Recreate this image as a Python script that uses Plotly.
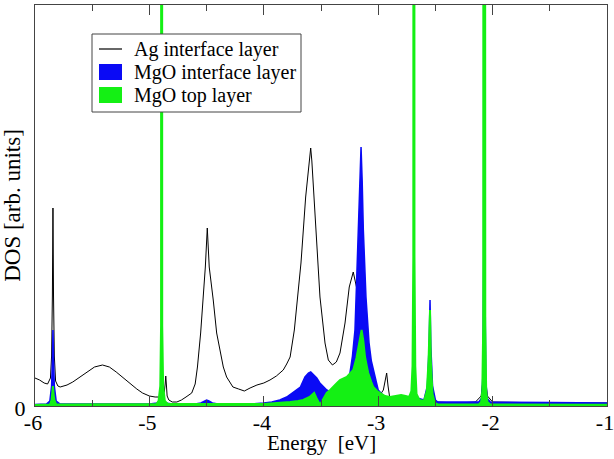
import plotly.graph_objects as go

# ---- data (energy in eV, DOS in arbitrary units) ----
ag_energy = [-6.00, -5.96, -5.92, -5.89, -5.865, -5.855, -5.848, -5.843, -5.838, -5.831, -5.82, -5.80,
             -5.78, -5.72, -5.67, -5.61, -5.55, -5.48, -5.41, -5.35, -5.29, -5.23, -5.17, -5.11,
             -5.06, -5.00, -4.95, -4.92, -4.89, -4.87, -4.862, -4.857, -4.852, -4.845, -4.83, -4.80,
             -4.76, -4.72, -4.68, -4.65, -4.63, -4.60, -4.58, -4.552, -4.53, -4.511, -4.494, -4.477,
             -4.442, -4.412, -4.383, -4.354, -4.325, -4.27, -4.22, -4.17, -4.12, -4.06, -4.00, -3.946,
             -3.89, -3.83, -3.80, -3.77, -3.733, -3.675, -3.634, -3.60, -3.59, -3.58, -3.56, -3.537,
             -3.509, -3.465, -3.436, -3.40, -3.366, -3.334, -3.29, -3.253, -3.218, -3.19, -3.16, -3.115,
             -3.07, -3.03, -2.984, -2.955, -2.937, -2.926, -2.914, -2.90, -2.84, -2.78, -2.72, -2.69,
             -2.65, -2.60, -2.55, -2.50, -2.30, -2.15, -2.10, -2.085, -2.073, -2.06, -2.045, -2.00,
             -1.50, -1.00]
ag_dos = [28, 26, 23, 22, 28, 50, 110, 198, 110, 50, 25, 20,
          19, 21, 24, 29, 34, 39, 41, 39, 34, 28, 23, 17,
          13, 10, 9, 9, 10, 14, 22, 30, 22, 10, 6, 4,
          4, 6, 9, 11, 13, 22, 39, 73, 106, 139, 178, 139,
          106, 73, 56, 39, 29, 19, 17, 15, 18, 21, 23, 26,
          30, 36, 42, 49, 76, 143, 209, 250, 258, 245, 209, 159,
          109, 63, 46, 41, 44, 53, 83, 119, 134, 119, 89, 59,
          36, 19, 11, 16, 25, 33, 20, 9, 8, 8, 8, 9,
          6, 5, 6, 4, 3, 4, 10, 25, 66, 25, 10, 4,
          3, 3]

mgo_if_energy = [-6.00, -5.90, -5.87, -5.855, -5.848, -5.843, -5.838, -5.831, -5.815, -5.78, -5.00, -4.93,
                 -4.905, -4.893, -4.88, -4.86, -4.80, -4.60, -4.55, -4.52, -4.50, -4.48, -4.45, -4.40,
                 -4.10, -4.00, -3.93, -3.86, -3.80, -3.74, -3.68, -3.64, -3.61, -3.59, -3.57, -3.537,
                 -3.51, -3.48, -3.45, -3.42, -3.37, -3.33, -3.305, -3.27, -3.247, -3.225, -3.203, -3.19,
                 -3.174, -3.16, -3.15, -3.14, -3.13, -3.107, -3.08, -3.06, -3.043, -3.02, -3.00, -2.96,
                 -2.926, -2.85, -2.78, -2.72, -2.70, -2.69, -2.68, -2.66, -2.60, -2.57, -2.555, -2.547,
                 -2.54, -2.525, -2.50, -2.48, -2.12, -2.095, -2.085, -2.078, -2.073, -2.068, -2.06, -2.05,
                 -2.02, -1.50, -1.00]
mgo_if_dos = [1.5, 2, 5, 20, 45, 76, 45, 20, 5, 2, 2, 3,
              8, 20, 8, 3, 2, 2, 3, 5, 6, 5, 3, 2,
              2, 3, 4, 6, 9, 14, 19, 29, 33, 34, 32, 28,
              23, 19, 16, 14, 14, 16, 19, 25, 33, 50, 76, 120,
              176, 225, 259, 225, 176, 109, 63, 45, 36, 24, 16, 11,
              8, 8, 9, 9, 15, 30, 15, 8, 6, 20, 60, 106,
              60, 20, 6, 4, 4, 8, 30, 150, 3000, 150, 30, 8,
              4, 3.5, 3]

mgo_top_energy = [-6.00, -5.87, -5.855, -5.848, -5.843, -5.838, -5.831, -5.815, -5.00, -4.94, -4.92, -4.905,
                  -4.898, -4.893, -4.888, -4.88, -4.865, -4.84, -4.00, -3.85, -3.77, -3.70, -3.655, -3.60,
                  -3.575, -3.56, -3.54, -3.52, -3.51, -3.495, -3.47, -3.45, -3.42, -3.39, -3.36, -3.334,
                  -3.30, -3.275, -3.25, -3.218, -3.19, -3.174, -3.16, -3.145, -3.13, -3.115, -3.10, -3.087,
                  -3.06, -3.043, -3.01, -2.984, -2.94, -2.897, -2.85, -2.80, -2.76, -2.73, -2.71, -2.70,
                  -2.693, -2.688, -2.683, -2.676, -2.665, -2.64, -2.60, -2.575, -2.56, -2.551, -2.547, -2.54,
                  -2.525, -2.505, -2.48, -2.12, -2.10, -2.09, -2.082, -2.073, -2.064, -2.056, -2.045, -2.02,
                  -1.00]
mgo_top_dos = [1, 1.5, 6, 12, 20, 12, 6, 1.5, 1.5, 2, 5, 20,
               80, 3000, 80, 20, 5, 2, 2, 3, 4, 5, 6, 9,
               12, 13, 8, 3, 1.5, 4, 9, 13, 16, 19, 23, 26,
               28, 29, 32, 36, 48, 59, 70, 76, 65, 49, 40, 33,
               24, 19, 15, 13, 10, 9, 10, 11, 10, 9, 15, 40,
               150, 3000, 150, 40, 12, 6, 5, 15, 45, 95, 96, 45,
               12, 3, 1.5, 1.5, 4, 15, 80, 3000, 80, 15, 4, 1.5,
               1.2]

x_ticks = [-6, -5, -4, -3, -2, -1]
x_ticktext = ["-6", "-5", "-4", "-3", "-2", "-1"]
series_names = ["Ag interface layer", "MgO interface layer", "MgO top layer"]
x_title = "Energy  [eV]"
y_title = "DOS [arb. units]"

BLUE = "#0a0af5"
GREEN = "#14f014"
FONT = "Liberation Serif"
AXC = "#444444"

fig = go.Figure()
fig.add_trace(go.Scatter(x=ag_energy, y=ag_dos, mode="lines", name=series_names[0],
                         line=dict(color="black", width=1), showlegend=False))
fig.add_trace(go.Scatter(x=mgo_if_energy, y=mgo_if_dos, mode="lines", fill="tozeroy",
                         fillcolor=BLUE, line=dict(color=BLUE, width=1.5), name=series_names[1],
                         showlegend=False))
fig.add_trace(go.Scatter(x=mgo_top_energy, y=mgo_top_dos, mode="lines", fill="tozeroy",
                         fillcolor=GREEN, line=dict(color=GREEN, width=2), name=series_names[2],
                         showlegend=False))

# ---- hand-drawn legend (paper coordinates of the plot area) ----
PX0, PW, PY0, PH = 35, 572, 406, 401
def px(x):
    return (x - PX0) / PW
def py(y):
    return (PY0 - y) / PH

shapes = [
    dict(type="rect", xref="paper", yref="paper", x0=px(92), x1=px(301), y0=py(112), y1=py(34),
         line=dict(color=AXC, width=1), fillcolor="white", layer="above"),
    dict(type="line", xref="paper", yref="paper", x0=px(99), x1=px(122), y0=py(49), y1=py(49),
         line=dict(color="black", width=1.2), layer="above"),
    dict(type="rect", xref="paper", yref="paper", x0=px(99), x1=px(122), y0=py(80), y1=py(64),
         line=dict(width=0), fillcolor=BLUE, layer="above"),
    dict(type="rect", xref="paper", yref="paper", x0=px(99), x1=px(122), y0=py(103), y1=py(87),
         line=dict(width=0), fillcolor=GREEN, layer="above"),
]
annotations = []
for name, yc in zip(series_names, [49, 72, 95]):
    annotations.append(dict(text=name, xref="paper", yref="paper", x=px(132), y=py(yc),
                            xanchor="left", yanchor="middle", showarrow=False,
                            font=dict(family=FONT, size=20, color="black")))
# x-axis title
annotations.append(dict(text=x_title, xref="paper", yref="paper", x=0.5, y=py(443),
                        xanchor="center", yanchor="middle", showarrow=False,
                        font=dict(family=FONT, size=21, color="black")))

fig.update_layout(
    width=614, height=459,
    margin=dict(l=35, r=7, t=5, b=53, autoexpand=False),
    paper_bgcolor="white", plot_bgcolor="white",
    font=dict(family=FONT, size=20, color="black"),
    showlegend=False,
    shapes=shapes, annotations=annotations,
    xaxis=dict(range=[-6, -1], tickvals=x_ticks, ticktext=x_ticktext,
               ticks="inside", ticklen=10, tickcolor=AXC, tickwidth=1,
               minor=dict(dtick=0.5, tick0=-6, ticks="inside", ticklen=6, tickcolor=AXC, tickwidth=1),
               showline=True, linecolor=AXC, linewidth=1, mirror="ticks",
               showgrid=False, zeroline=False, ticklabeloverflow="allow",
               ticklabelstandoff=-3, ticklabelshift=-2, automargin=False,
               tickfont=dict(size=22)),
    yaxis=dict(range=[0, 401], tickvals=[0], ticktext=["0"], ticks="",
               showline=True, linecolor=AXC, linewidth=1, mirror=True,
               showgrid=False, zeroline=False, ticklabelstandoff=4, ticklabelshift=2,
               automargin=False,
               title=dict(text=y_title, font=dict(size=23), standoff=0),
               tickfont=dict(size=22)),
)

fig.write_html("out.html")
